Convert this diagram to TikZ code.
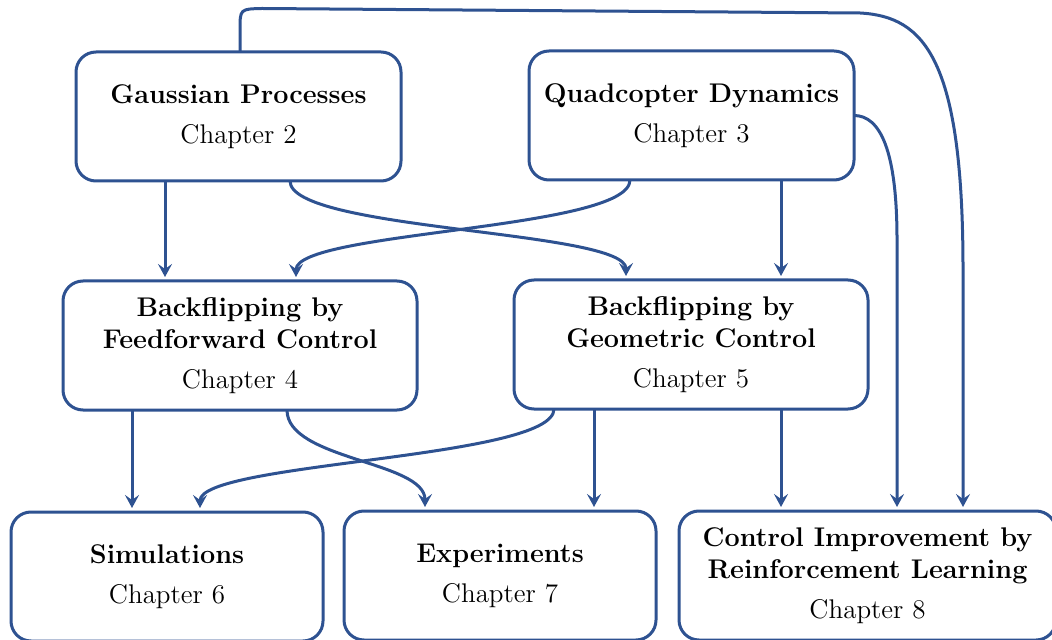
\documentclass[tikz,border=0pt]{standalone}
\usetikzlibrary{arrows.meta,calc}
\definecolor{flowblue}{RGB}{46,82,145}
\begin{document}
\begin{tikzpicture}[x=0.5pt,y=-0.5pt,
  chapbox/.style={draw=flowblue, line width=1.5pt, rounded corners=10pt,
    fill=white, align=center, inner sep=0pt, outer sep=0pt,
    minimum height=64.5pt, font=\fontsize{13.5}{16}\selectfont},
  link/.style={draw=flowblue, line width=1.5pt,
    -{Stealth[length=6.5pt,width=7pt,inset=2.5pt]}, shorten >=2pt}]
\useasboundingbox (0,0) rectangle (1052,640);

% chapter boxes
\node[chapbox, minimum width=162.5pt] (gp) at (238.5,116.5)
  {\textbf{Gaussian Processes}\\[4pt]Chapter 2};
\node[chapbox, minimum width=162.5pt] (qd) at (691.5,115.5)
  {\textbf{Quadcopter Dynamics}\\[4pt]Chapter 3};
\node[chapbox, minimum width=177pt] (ff) at (240,345.5)
  {\textbf{Backflipping by}\\\textbf{Feedforward Control}\\[4pt]Chapter 4};
\node[chapbox, minimum width=177pt] (gc) at (691,344.5)
  {\textbf{Backflipping by}\\\textbf{Geometric Control}\\[4pt]Chapter 5};
\node[chapbox, minimum width=156pt] (sim) at (167,576.5)
  {\textbf{Simulations}\\[4pt]Chapter 6};
\node[chapbox, minimum width=156pt] (exp) at (500,575.5)
  {\textbf{Experiments}\\[4pt]Chapter 7};
\node[chapbox, minimum width=188.5pt] (ci) at (867.5,575.5)
  {\textbf{Control Improvement by}\\\textbf{Reinforcement Learning}\\[4pt]Chapter 8};

% first tier to second tier
\draw[link] ($(gp.south west)+(89,0)$) coordinate (s1) -- (s1 |- ff.north);
\draw[link] ($(gp.south west)+(214,0)$) .. controls +(0,50) and +(0,-50) ..
  ($(gc.north west)+(112,0)$);
\draw[link] ($(qd.south west)+(101,0)$) .. controls +(0,50) and +(0,-50) ..
  ($(ff.north west)+(233,0)$);
\draw[link] ($(qd.south west)+(252,0)$) coordinate (s4) -- (s4 |- gc.north);

% long links into chapter 8
\draw[link] (qd.east) .. controls +(26,0) and +(0,-90) ..
  ($(ci.north west)+(218,-271)$) -- ($(ci.north west)+(218,0)$);
\draw[link] ($(gp.north west)+(164,0)$) -- (240,30) .. controls (240,9) .. (262,8.5)
  -- (860,13) .. controls (925,16.5) and (963,60) .. (963,270)
  -- ($(ci.north west)+(284,0)$);

% second tier to third tier
\draw[link] ($(ff.south west)+(69,0)$) coordinate (s7) -- (s7 |- sim.north);
\draw[link] ($(ff.south west)+(224,0)$) .. controls +(0,50) and +(0,-50) ..
  ($(exp.north west)+(81,0)$);
\draw[link] ($(gc.south west)+(40,0)$) .. controls +(0,50) and +(0,-50) ..
  ($(sim.north west)+(189,0)$);
\draw[link] ($(gc.south west)+(80,0)$) coordinate (s10) -- (s10 |- exp.north);
\draw[link] ($(gc.south west)+(267,0)$) coordinate (s11) -- (s11 |- ci.north);
\end{tikzpicture}
\end{document}
